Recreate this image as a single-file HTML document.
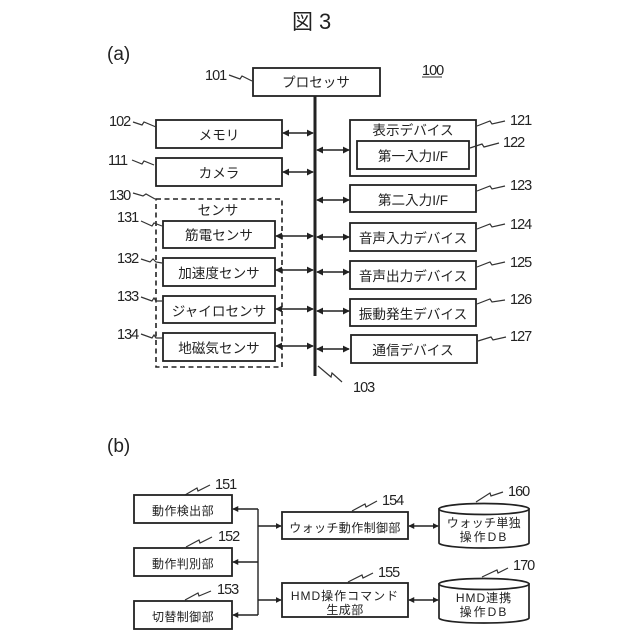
<!DOCTYPE html>
<html><head><meta charset="utf-8"><style>
html,body{margin:0;padding:0;background:#fff}
svg{display:block}
text{font-family:"Liberation Sans","Noto Sans CJK JP",sans-serif;fill:#222}
.j{font-size:13.6px;text-anchor:middle}
.s{font-size:12px;text-anchor:middle;letter-spacing:.4px}
.n{font-size:14.5px;letter-spacing:-1px}
.b{fill:#fff;stroke:#222;stroke-width:1.8}
.l{fill:none;stroke:#333;stroke-width:1.2}
.c{fill:none;stroke:#222;stroke-width:1.4}
</style></head><body>
<svg width="640" height="640" viewBox="0 0 640 640" xmlns="http://www.w3.org/2000/svg">
<defs>
<marker id="a" viewBox="0 0 8 8" refX="7" refY="4" markerWidth="7" markerHeight="8" markerUnits="userSpaceOnUse" orient="auto-start-reverse"><path d="M0 0L8 4L0 8Z" fill="#222"/></marker>
<marker id="m" viewBox="0 0 8 8" refX="7" refY="4" markerWidth="6" markerHeight="6" markerUnits="userSpaceOnUse" orient="auto-start-reverse"><path d="M0 0L8 4L0 8Z" fill="#222"/></marker>
</defs>
<text x="292" y="29" font-size="21">図</text>
<text x="319" y="29" font-size="22">3</text>
<text x="107" y="60" font-size="19">(a)</text>
<text x="107" y="452" font-size="19">(b)</text>

<rect class="b" x="253" y="68" width="127" height="28"/>
<text class="j" x="316" y="87">プロセッサ</text>
<text class="n" x="422" y="75">100</text><path d="M422 77H442" stroke="#333"/>

<rect class="b" x="156" y="120" width="126" height="28"/>
<text class="j" x="219" y="140">メモリ</text>
<rect class="b" x="156" y="158" width="126" height="28"/>
<text class="j" x="219" y="178">カメラ</text>
<rect x="156" y="199" width="126" height="168" fill="none" stroke="#222" stroke-width="1.6" stroke-dasharray="5 3.5"/>
<text class="j" x="218" y="215">センサ</text>
<rect class="b" x="163" y="221" width="112" height="27"/>
<text class="j" x="219" y="240">筋電センサ</text>
<rect class="b" x="163" y="258" width="112" height="28"/>
<text class="j" x="219" y="278">加速度センサ</text>
<rect class="b" x="163" y="296" width="112" height="27"/>
<text class="j" x="219" y="316">ジャイロセンサ</text>
<rect class="b" x="163" y="333" width="112" height="28"/>
<text class="j" x="219" y="353">地磁気センサ</text>

<rect class="b" x="350" y="120" width="126" height="56"/>
<text class="j" x="413" y="135">表示デバイス</text>
<rect class="b" x="357" y="141" width="112" height="28"/>
<text class="j" x="413" y="161">第一入力I/F</text>
<rect class="b" x="350" y="185" width="126" height="27"/>
<text class="j" x="413" y="205">第二入力I/F</text>
<rect class="b" x="350" y="223" width="126" height="28"/>
<text class="j" x="413" y="243">音声入力デバイス</text>
<rect class="b" x="350" y="261" width="126" height="28"/>
<text class="j" x="413" y="281">音声出力デバイス</text>
<rect class="b" x="350" y="299" width="126" height="27"/>
<text class="j" x="413" y="319">振動発生デバイス</text>
<rect class="b" x="351" y="335" width="126" height="28"/>
<text class="j" x="413" y="355">通信デバイス</text>

<path d="M315 96V376" stroke="#222" stroke-width="3"/>
<path class="c" d="M283 133H313" marker-start="url(#a)" marker-end="url(#a)"/>
<path class="c" d="M283 172H313" marker-start="url(#a)" marker-end="url(#a)"/>
<path class="c" d="M276 236H313" marker-start="url(#a)" marker-end="url(#a)"/>
<path class="c" d="M276 270H313" marker-start="url(#a)" marker-end="url(#a)"/>
<path class="c" d="M276 309H313" marker-start="url(#a)" marker-end="url(#a)"/>
<path class="c" d="M276 346H313" marker-start="url(#a)" marker-end="url(#a)"/>
<path class="c" d="M317 150H349" marker-start="url(#a)" marker-end="url(#a)"/>
<path class="c" d="M317 200H349" marker-start="url(#a)" marker-end="url(#a)"/>
<path class="c" d="M317 237H349" marker-start="url(#a)" marker-end="url(#a)"/>
<path class="c" d="M317 272H349" marker-start="url(#a)" marker-end="url(#a)"/>
<path class="c" d="M317 311H349" marker-start="url(#a)" marker-end="url(#a)"/>
<path class="c" d="M317 349H349" marker-start="url(#a)" marker-end="url(#a)"/>

<g class="n">
<text x="205" y="80">101</text>
<text x="109" y="126">102</text>
<text x="108" y="165">111</text>
<text x="109" y="200">130</text>
<text x="117" y="222">131</text>
<text x="117" y="263">132</text>
<text x="117" y="301">133</text>
<text x="117" y="339">134</text>
<text x="510" y="125">121</text>
<text x="503" y="147">122</text>
<text x="510" y="190">123</text>
<text x="510" y="229">124</text>
<text x="510" y="267">125</text>
<text x="510" y="304">126</text>
<text x="510" y="341">127</text>
<text x="353" y="392">103</text>
<text x="215" y="489">151</text>
<text x="218" y="541">152</text>
<text x="217" y="594">153</text>
<text x="382" y="505">154</text>
<text x="378" y="577">155</text>
<text x="508" y="496">160</text>
<text x="513" y="570">170</text>
</g>
<g class="l">
<path d="M229 75L240 79L242 76L252 81"/>
<path d="M133 122L142 125L144 122L156 127"/>
<path d="M132 160L142 164L144 161L154 165"/>
<path d="M133 193L143 196L146 194L155 199"/>
<path d="M141 221L152 226L154 223L162 226"/>
<path d="M141 259L150 262L153 259L156 262L162 263"/>
<path d="M141 297L152 301L154 298L156 301L162 301"/>
<path d="M141 334L152 338L154 335L156 338L162 338"/>
<path d="M477 126L490 121L492 124L505 121"/>
<path d="M470 148L482 144L484 147L499 143"/>
<path d="M477 191L490 186L492 189L505 186"/>
<path d="M477 229L490 224L492 227L505 224"/>
<path d="M477 267L490 262L492 265L505 262"/>
<path d="M477 304L490 299L492 302L505 300"/>
<path d="M478 341L491 337L493 340L506 337"/>
<path d="M318 366L331 377L332 373L342 382"/>
<path d="M185 495L197 488L198 491L210 485"/>
<path d="M186 547L199 540L200 543L212 537"/>
<path d="M185 600L198 593L199 596L211 591"/>
<path d="M352 511L365 504L366 507L377 501"/>
<path d="M348 582L362 575L363 578L373 573"/>
<path d="M476 502L490 493L491 496L503 492"/>
<path d="M482 577L497 570L498 573L508 568"/>
</g>

<rect class="b" x="134" y="495" width="98" height="28"/>
<text class="s" x="183" y="515">動作検出部</text>
<rect class="b" x="134" y="548" width="98" height="28"/>
<text class="s" x="183" y="568">動作判別部</text>
<rect class="b" x="134" y="601" width="98" height="28"/>
<text class="s" x="183" y="621">切替制御部</text>
<rect class="b" x="282" y="512" width="126" height="27"/>
<text class="s" x="345" y="532">ウォッチ動作制御部</text>
<rect class="b" x="282" y="583" width="126" height="34"/>
<text class="s" x="345" y="600" style="letter-spacing:1px">HMD操作コマンド</text>
<text class="s" x="345" y="614">生成部</text>

<path class="c" d="M258 509V615"/>
<path class="c" d="M258 509H233" marker-end="url(#m)"/>
<path class="c" d="M258 562H233" marker-end="url(#m)"/>
<path class="c" d="M258 615H233" marker-end="url(#m)"/>
<path class="c" d="M258 526H281" marker-end="url(#m)"/>
<path class="c" d="M258 600H281" marker-end="url(#m)"/>
<path class="c" d="M409 526H438" marker-start="url(#m)" marker-end="url(#m)"/>
<path class="c" d="M409 600H438" marker-start="url(#m)" marker-end="url(#m)"/>

<g fill="#fff" stroke="#222" stroke-width="1.7">
<path d="M439 509V543A45 5 0 0 0 529 543V509Z"/>
<ellipse cx="484" cy="509" rx="45" ry="5.5"/>
<path d="M439 584V618A45 5 0 0 0 529 618V584Z"/>
<ellipse cx="484" cy="584" rx="45" ry="5.5"/>
</g>
<text class="s" x="484" y="527">ウォッチ単独</text>
<text class="s" x="484" y="541" style="letter-spacing:2px">操作DB</text>
<text class="s" x="484" y="602" style="letter-spacing:1px">HMD連携</text>
<text class="s" x="484" y="616" style="letter-spacing:2px">操作DB</text>
</svg>
</body></html>
